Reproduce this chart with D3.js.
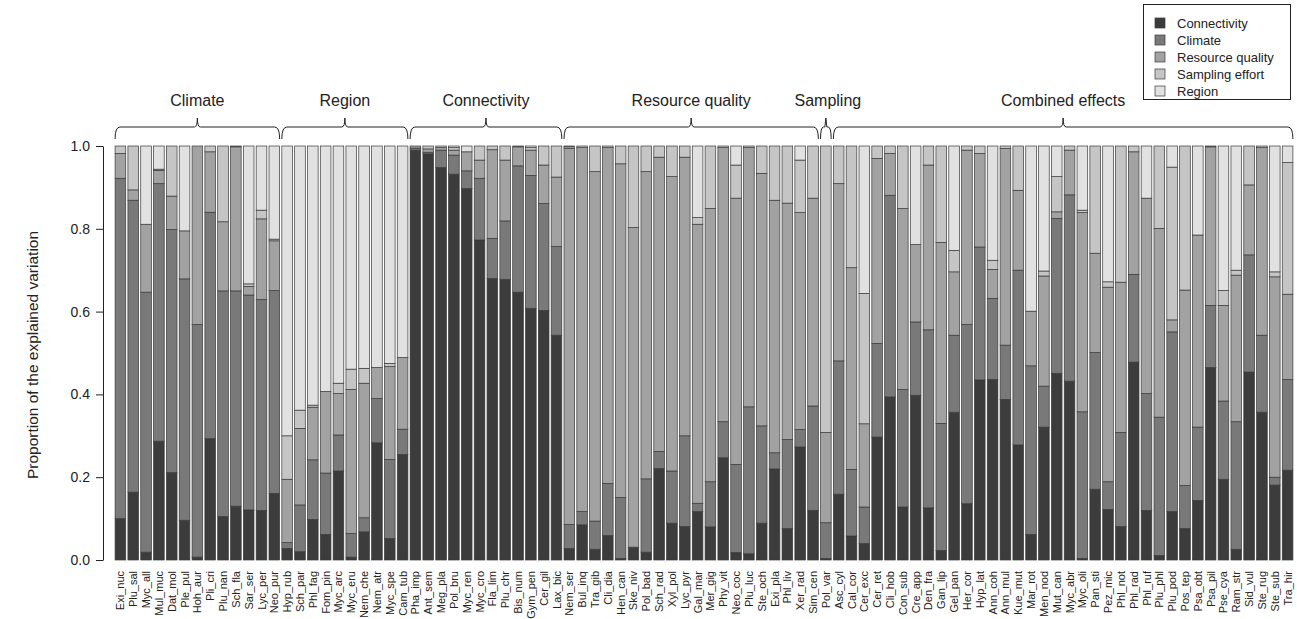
<!DOCTYPE html>
<html>
<head>
<meta charset="utf-8">
<script src="https://cdn.jsdelivr.net/npm/d3@7"></script>
<style>
  body { margin: 0; background: #fff; }
  svg { font-family: "Liberation Sans", Arial, sans-serif; }
</style>
</head>
<body>
<div class="chart"></div>
<script>
// Species in plotting order
const species = [
    "Exi_nuc","Plu_sal","Myc_all","Mul_muc","Dat_mol","Ple_pul","Hoh_aur","Pli_cri","Plu_nan","Sch_fla","Sar_ser","Lyc_per","Neo_pur",
    "Hyp_rub","Sch_par","Phl_fag","Fom_pin","Myc_arc","Myc_eru","Nem_che","Nem_atr","Myc_spe","Cam_tub",
    "Pha_imp","Ant_sem","Meg_pla","Pol_bru","Myc_ren","Myc_cro","Fla_lim","Plu_chr","Bis_num","Gym_pen","Cer_gil","Lax_bic",
    "Nem_ser","Bul_inq","Tra_gib","Cli_dia","Hen_can","Ske_niv","Pol_bad","Sch_rad","Xyl_pol","Lyc_pyr","Gal_mar","Mer_gig","Phy_vit","Neo_coc","Plu_luc","Ste_och","Exi_pla","Phl_liv","Xer_rad","Sim_cen",
    "Pol_var",
    "Asc_cyl","Cal_cor","Cer_exc","Cer_ret","Cli_hob","Con_sub","Cre_app","Den_fra","Gan_lip","Gel_pan","Her_cor","Hyp_lat","Ann_coh","Ann_mul","Kue_mut","Mar_rot","Men_nod","Mut_can","Myc_abr","Myc_oli","Pan_sti","Pez_mic","Phl_not","Phl_rad","Phl_ruf","Plu_phl","Plu_pod","Pos_tep","Psa_obt","Psa_pil","Pse_cya","Ram_str","Sid_vul","Ste_rug","Ste_sub","Tra_hir"
];

// Groups shown with brackets above the bars
const groupNames = ["Climate", "Region", "Connectivity", "Resource quality", "Sampling", "Combined effects"];
const groupSizes = [13, 10, 12, 20, 1, 36];

// Series (bottom to top)
const connectivity = [
    .10,.164,.019,.287,.211,.096,.007,.293,.105,.13,.121,.12,.161,
    .028,.02,.098,.062,.215,.007,.068,.283,.052,.255,
    .99,.981,.948,.932,.897,.773,.68,.678,.647,.608,.603,.543,
    .028,.085,.026,.059,.004,.031,.019,.221,.089,.081,.117,.08,.247,.018,.015,.089,.22,.076,.273,.12,
    .004,
    .159,.058,.04,.297,.394,.128,.398,.126,.023,.357,.136,.435,.436,.388,.278,.062,.321,.451,.432,.004,.171,.122,.081,.478,.12,.011,.117,.076,.144,.465,.195,.026,.454,.357,.181,.217
];
const climate = [
    .822,.705,.628,.622,.587,.583,.562,.547,.545,.52,.519,.509,.49,
    .014,.113,.144,.148,.087,.057,.034,.107,.191,.061,
    .005,.004,.042,.046,.043,.149,.097,.141,.305,.321,.258,.214,
    .058,.032,.068,.126,.147,0,.177,.041,.126,.219,.02,.109,.087,.213,.355,.235,.039,.215,.042,.252,
    .086,
    .322,.161,.088,.226,.487,.284,.177,.43,.307,.186,.433,.321,.196,.131,.422,.407,.099,.374,.45,.354,.33,.067,.227,.212,.282,.334,.434,.104,.177,.15,.189,.308,.283,.186,.019,.219
];
const resource = [
    .06,.025,.164,.032,.081,.116,.431,.146,.167,.348,.021,.195,.12,
    .153,.185,.127,.197,.10,.348,.325,.075,.224,.173,
    .005,.008,.006,.012,.046,.044,.214,.147,.046,.061,.093,.168,
    .908,.879,.844,.811,.806,.772,.742,.711,.711,.673,.674,.66,.662,.643,.626,.61,.61,.571,.524,.502,
    .218,
    .428,.487,.201,.447,.101,.437,.187,.398,.437,.153,.421,.226,.07,.475,.193,.132,.266,.016,.108,.481,.24,.47,.363,.296,.472,.456,.029,.472,.464,.383,.231,.354,.169,.453,.484,.206
];
const sampling = [
    .018,.106,0,.003,.121,0,0,.014,.183,.002,.006,.021,.004,
    .105,.044,.005,0,.025,.049,.036,0,.008,0,
    0,.007,.004,.006,0,.034,.009,.034,.002,.006,.046,.075,
    .004,.004,.062,.004,.043,.197,.062,.027,.074,.027,.016,.151,.004,.08,.004,.066,.131,.138,.127,.126,
    .692,
    .091,.294,.315,.03,.018,.151,0,.046,.233,.052,.01,.018,.022,.006,.107,0,.012,.085,.01,.006,.259,.013,.329,.014,0,.199,.369,.348,0,.002,.036,.012,.094,.004,.012,.318
];
const region = [
    0,0,.189,.056,0,.205,0,0,0,0,.333,.155,.225,
    .70,.638,.626,.593,.573,.539,.537,.535,.525,.511,
    0,0,0,.004,.014,0,0,0,0,.004,0,0,
    .002,0,0,0,0,0,0,0,0,0,.173,0,0,.046,0,0,0,0,.034,0,
    0,
    0,0,.356,0,0,0,.238,0,0,.252,0,0,.276,0,0,.399,.302,.074,0,.155,0,.328,0,0,.126,0,.051,0,.215,0,.349,.30,0,0,.304,.04
];

const seriesNames = ["Connectivity", "Climate", "Resource quality", "Sampling effort", "Region"];
const seriesColors = ["#3c3c3c", "#797979", "#a2a2a2", "#c5c5c5", "#e1e1e1"];
const yTicks = [0, 0.2, 0.4, 0.6, 0.8, 1.0];

const W = 1297, H = 619;
const svg = d3.select(".chart").append("svg")
    .attr("width", W)
    .attr("height", H);

// build table for d3.stack
const keys = ["conn", "clim", "res", "samp", "reg"];
const rows = species.map((s, i) => ({
    name: s, conn: connectivity[i], clim: climate[i], res: resource[i], samp: sampling[i], reg: region[i]
}));
const stacked = d3.stack().keys(keys).offset(d3.stackOffsetExpand)(rows);

const x = d3.scaleBand()
    .domain(species)
    .range([114, 1294])
    .paddingInner(0.17)
    .paddingOuter(0.085);

const y = d3.scaleLinear()
    .domain([0, 1])
    .range([560, 146]);

// bars
svg.append("g").selectAll("g")
    .data(stacked)
    .join("g")
    .attr("fill", (d, i) => seriesColors[i])
    .selectAll("rect")
    .data(d => d)
    .join("rect")
    .attr("x", d => x(d.data.name))
    .attr("y", d => y(d[1]))
    .attr("width", x.bandwidth())
    .attr("height", d => y(d[0]) - y(d[1]))
    .attr("stroke", "#3a3a3a")
    .attr("stroke-width", 0.7);

// y axis
const yAxis = svg.append("g")
    .attr("transform", "translate(103,0)")
    .call(d3.axisLeft(y).tickValues(yTicks).tickFormat(d3.format(".1f")).tickSize(7).tickPadding(6).tickSizeOuter(0));
yAxis.selectAll("text").attr("font-size", 14).attr("fill", "#222").attr("font-family", "Liberation Sans, Arial, sans-serif");
yAxis.select(".domain").attr("stroke", "#222");
yAxis.selectAll(".tick line").attr("stroke", "#222");

svg.append("text")
    .attr("transform", "translate(38,355) rotate(-90)")
    .attr("text-anchor", "middle")
    .attr("font-size", 15.5)
    .attr("fill", "#222")
    .text("Proportion of the explained variation");

// x labels
svg.append("g").selectAll("text")
    .data(species)
    .join("text")
    .attr("transform", d => `translate(${x(d) + x.bandwidth() / 2 + 4},571) rotate(-90)`)
    .attr("text-anchor", "end")
    .attr("font-size", 11)
    .attr("fill", "#222")
    .text(d => d);

// group brackets
let start = 0;
const groups = groupNames.map((g, i) => {
    const first = species[start];
    const last = species[start + groupSizes[i] - 1];
    start += groupSizes[i];
    return { name: g, x0: x(first), x1: x(last) + x.bandwidth() };
});

function bracket(d) {
    const m = (d.x0 + d.x1) / 2;
    const yb = 139, yh = 127, yp = 118, r = 5;
    if (d.x1 - d.x0 < 20) {
        return `M${d.x0},${yb} Q${d.x0},${yh} ${d.x0 + 3},${yh} L${m - 1},${yh} L${m},${yp} L${m + 1},${yh} L${d.x1 - 3},${yh} Q${d.x1},${yh} ${d.x1},${yb}`;
    }
    return `M${d.x0},${yb} Q${d.x0},${yh} ${d.x0 + r},${yh} L${m - 3},${yh} Q${m},${yh} ${m},${yp} Q${m},${yh} ${m + 3},${yh} L${d.x1 - r},${yh} Q${d.x1},${yh} ${d.x1},${yb}`;
}

svg.append("g").selectAll("path")
    .data(groups)
    .join("path")
    .attr("d", bracket)
    .attr("fill", "none")
    .attr("stroke", "#222")
    .attr("stroke-width", 1);

svg.append("g").selectAll("text")
    .data(groups)
    .join("text")
    .attr("x", d => (d.x0 + d.x1) / 2 + (d.name === "Sampling" ? 2 : 0))
    .attr("y", 106)
    .attr("text-anchor", "middle")
    .attr("font-size", 16)
    .attr("fill", "#222")
    .text(d => d.name);

// legend
const lg = svg.append("g");
lg.append("rect")
    .attr("x", 1143.5).attr("y", 4.5)
    .attr("width", 147).attr("height", 95)
    .attr("fill", "#fff").attr("stroke", "#222");
const items = lg.selectAll("g.item")
    .data(seriesNames)
    .join("g")
    .attr("class", "item")
    .attr("transform", (d, i) => `translate(1155,${23 + i * 17})`);
items.append("rect")
    .attr("x", 0).attr("y", -5)
    .attr("width", 10).attr("height", 10)
    .attr("fill", (d, i) => seriesColors[i])
    .attr("stroke", "#3a3a3a")
    .attr("stroke-width", 0.7);
items.append("text")
    .attr("x", 22).attr("y", 5)
    .attr("font-size", 13)
    .attr("fill", "#222")
    .text(d => d);
</script>
</body>
</html>
